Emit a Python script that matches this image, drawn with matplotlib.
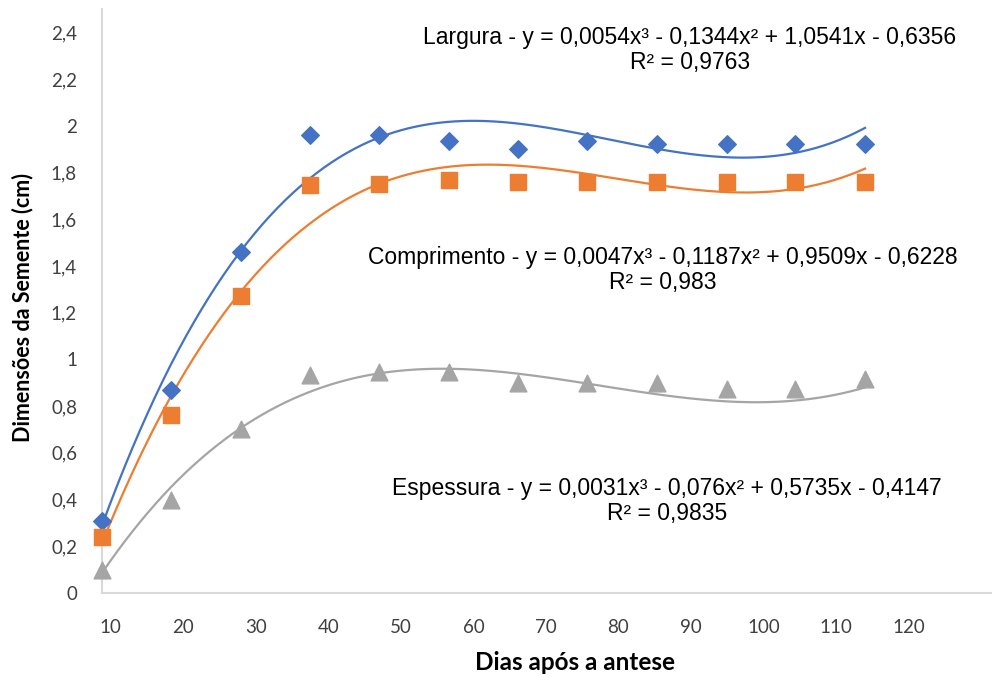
import matplotlib
matplotlib.use('Agg')
import matplotlib.pyplot as plt
import numpy as np

# dados
dias = [8.8, 18.3, 27.9, 37.5, 47.0, 56.6, 66.1, 75.7, 85.3, 94.9, 104.4, 114.0]
largura = [0.31, 0.87, 1.46, 1.96, 1.96, 1.935, 1.90, 1.935, 1.92, 1.92, 1.92, 1.92]
comprimento = [0.24, 0.76, 1.27, 1.745, 1.75, 1.77, 1.76, 1.76, 1.76, 1.76, 1.76, 1.76]
espessura = [0.10, 0.40, 0.70, 0.935, 0.946, 0.946, 0.90, 0.90, 0.90, 0.875, 0.875, 0.915]

# coeficientes das linhas de tendência (x = índice 1..12)
coef_larg = [0.0054, -0.1344, 1.0541, -0.6356]
coef_comp = [0.0047, -0.1187, 0.9509, -0.6228]
coef_esp = [0.0031, -0.076, 0.5735, -0.4147]

eq_larg = 'Largura - y = 0,0054x³ - 0,1344x² + 1,0541x - 0,6356\nR² = 0,9763'
eq_comp = 'Comprimento - y = 0,0047x³ - 0,1187x² + 0,9509x - 0,6228\nR² = 0,983'
eq_esp = 'Espessura - y = 0,0031x³ - 0,076x² + 0,5735x - 0,4147\nR² = 0,9835'

xticks = [10, 20, 30, 40, 50, 60, 70, 80, 90, 100, 110, 120]
yticks = [0, 0.2, 0.4, 0.6, 0.8, 1, 1.2, 1.4, 1.6, 1.8, 2, 2.2, 2.4]

azul = '#4472C4'
laranja = '#ED7D31'
cinza = '#A5A5A5'

fig = plt.figure(figsize=(9.92, 6.78), dpi=100)
ax = fig.add_axes([102/992, 1 - 593/678, 1 - 102/992, (593 - 9)/678])

idx = np.arange(1, len(dias) + 1)
t = np.linspace(1, len(dias), 300)
xt = np.interp(t, idx, dias)

ax.plot(xt, np.polyval(coef_larg, t), color=azul, lw=1.6, zorder=2)
ax.plot(xt, np.polyval(coef_comp, t), color=laranja, lw=1.6, zorder=2)
ax.plot(xt, np.polyval(coef_esp, t), color=cinza, lw=1.6, zorder=2)

ax.scatter(dias, largura, marker='D', s=80, color=azul, zorder=3, clip_on=False)
ax.scatter(dias, comprimento, marker='s', s=125, color=laranja, zorder=3, clip_on=False)
ax.scatter(dias, espessura, marker='^', s=145, color=cinza, zorder=3, clip_on=False)

ax.set_xlim(dias[0], 131.5)
ax.set_ylim(0, 2.5)
ax.set_xticks(xticks)
ax.set_xticklabels([str(v) for v in xticks])
ax.set_yticks(yticks)
ax.set_yticklabels([('%g' % v).replace('.', ',') for v in yticks])
ax.tick_params(length=0, labelsize=13.5, labelcolor='#404040')
ax.tick_params(axis='x', pad=19)
ax.tick_params(axis='y', pad=18)
for lab in ax.get_xticklabels() + ax.get_yticklabels():
    lab.set_fontfamily('Lato')

for s in ['top', 'right']:
    ax.spines[s].set_visible(False)
for s in ['left', 'bottom']:
    ax.spines[s].set_color('#D9D9D9')
    ax.spines[s].set_linewidth(1.5)

fig.text(575/992, 1 - 663/678, 'Dias após a antese', ha='center', va='center',
         fontsize=17.5, fontweight='bold', family='Lato')
fig.text(23/992, 1 - 308/678, 'Dimensões da Semente (cm)', ha='center', va='center',
         rotation=90, fontsize=15.5, fontweight='bold', family='Lato')

kw = dict(ha='center', va='center', fontsize=16.5, family='Liberation Sans',
          linespacing=1.12, transform=fig.transFigure)
ax.text(690/992, 1 - 50/678, eq_larg, **kw)
ax.text(663/992, 1 - 270/678, eq_comp, **kw)
ax.text(667/992, 1 - 501/678, eq_esp, **kw)

fig.savefig('out.png', dpi=100)
